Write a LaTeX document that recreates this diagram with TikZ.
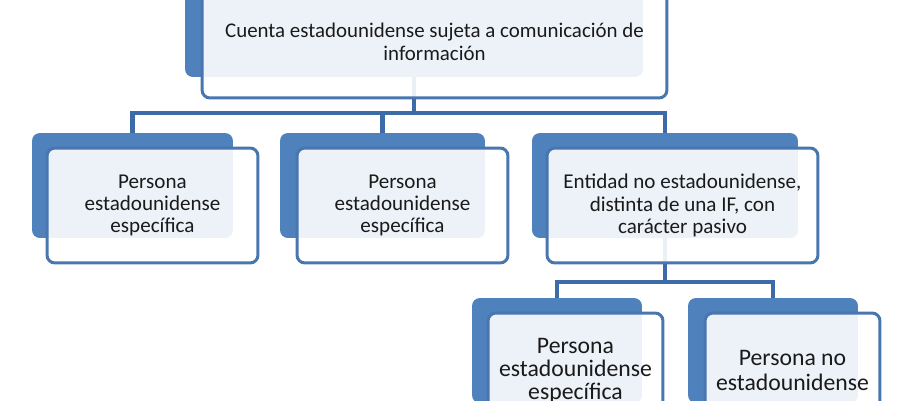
\documentclass[tikz,border=0pt]{standalone}
\usepackage{fontspec}
\setmainfont{Carlito}
\definecolor{boxblue}{HTML}{4F81BD}
\definecolor{edgeblue}{HTML}{4A76B0}
\definecolor{linkblue}{HTML}{3C6BA8}
\definecolor{txt}{HTML}{1A1A1A}
\tikzset{
  back/.style={rectangle, rounded corners=4.5pt, fill=boxblue, inner sep=0pt},
  front/.style={rectangle, rounded corners=4.5pt, draw=edgeblue, line width=1.7pt,
    fill=white, fill opacity=0.9, text opacity=1, text=txt, align=center, inner sep=2pt},
  link/.style={draw=linkblue, line width=2.8pt},
}
\begin{document}
\begin{tikzpicture}[x=0.02cm,y=-0.02cm]
\clip (0,0) rectangle (900,400);
% back plates
\node[back, minimum width=9.16cm, minimum height=2.14cm] (topb) at (414,23.5) {};
\node[back, minimum width=4.02cm, minimum height=2.1cm] (m1b) at (132.5,185.5) {};
\node[back, minimum width=4.1cm, minimum height=2.1cm] (m2b) at (382.5,185.5) {};
\node[back, minimum width=5.32cm, minimum height=2.1cm] (m3b) at (665,185.5) {};
\node[back, minimum width=3.4cm, minimum height=2.1cm] (b1b) at (557,350.5) {};
\node[back, minimum width=3.4cm, minimum height=2.1cm] (b2b) at (773,350.5) {};
% connectors
\coordinate (bus1) at (414,113);
\coordinate (bus2) at (665,282);
\draw[link] (topb.south) -- (bus1) -| (m1b.north);
\draw[link] (bus1) -| (m2b.north);
\draw[link] (bus1) -| (m3b.north);
\draw[link] (m3b.south) -- (bus2) -| (b1b.north);
\draw[link] (bus2) -| (b2b.north);
% front boxes
\node[front, minimum width=9.3cm, minimum height=2.26cm, font=\fontsize{11.9}{13}\selectfont]
  (top) at ([xshift=0.41cm,yshift=-0.36cm]topb) {Cuenta estadounidense sujeta a comunicación de\\información};
\node[front, minimum width=4.22cm, minimum height=2.3cm, font=\fontsize{12}{12.6}\selectfont]
  (m1) at ([xshift=0.4cm,yshift=-0.4cm]m1b) {Persona\\estadounidense\\específica};
\node[front, minimum width=4.22cm, minimum height=2.3cm, font=\fontsize{12}{12.6}\selectfont]
  (m2) at ([xshift=0.4cm,yshift=-0.4cm]m2b) {Persona\\estadounidense\\específica};
\node[front, minimum width=5.42cm, minimum height=2.3cm, font=\fontsize{12}{12.6}\selectfont]
  (m3) at ([xshift=0.35cm,yshift=-0.4cm]m3b) {Entidad no estadounidense,\\distinta de una IF, con\\carácter pasivo};
\node[front, minimum width=3.5cm, minimum height=2.3cm, font=\fontsize{13.5}{13.2}\selectfont]
  (b1) at ([xshift=0.37cm,yshift=-0.4cm]b1b) {Persona\\estadounidense\\específica};
\node[front, minimum width=3.5cm, minimum height=2.3cm, font=\fontsize{13.5}{14.5}\selectfont]
  (b2) at ([xshift=0.39cm,yshift=-0.4cm]b2b) {Persona no\\estadounidense};
\end{tikzpicture}
\end{document}
